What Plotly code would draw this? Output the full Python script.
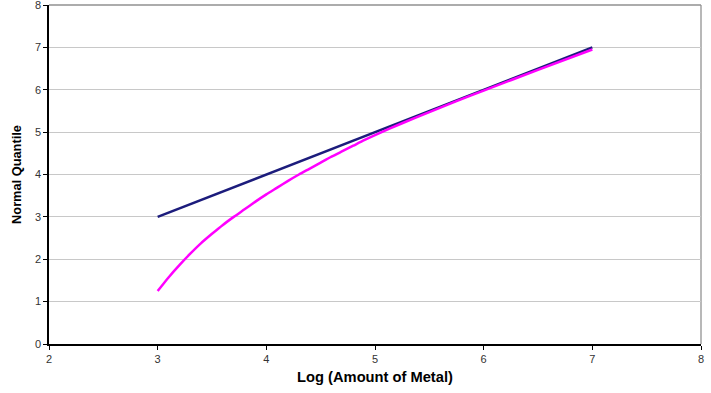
import plotly.graph_objects as go

# Reference line
ref_x = [3, 7]
ref_y = [3, 7]

# Magenta curve
curve_x = [3.0, 3.1, 3.2, 3.3, 3.4, 3.5, 3.6, 3.7, 3.8, 3.9, 4.0, 4.1, 4.2, 4.3, 4.4,
           4.5, 4.6, 4.7, 4.8, 4.9, 5.0, 5.25, 5.5, 5.75, 6.0, 6.5, 7.0]
curve_y = [1.25, 1.57, 1.86, 2.13, 2.38, 2.60, 2.81, 3.00, 3.18, 3.36, 3.53, 3.69, 3.85,
           4.00, 4.14, 4.28, 4.42, 4.55, 4.68, 4.81, 4.93, 5.21, 5.47, 5.73, 5.98, 6.47, 6.95]

x_ticks = [2, 3, 4, 5, 6, 7, 8]
y_ticks = [0, 1, 2, 3, 4, 5, 6, 7, 8]

fig = go.Figure()
fig.add_trace(go.Scatter(x=ref_x, y=ref_y, mode="lines",
                         line=dict(color="#1c1c7c", width=2.5), showlegend=False))
fig.add_trace(go.Scatter(x=curve_x, y=curve_y, mode="lines",
                         line=dict(color="#ff00ff", width=2.5, shape="spline", smoothing=0.6),
                         showlegend=False))

tickfont = dict(family="Liberation Sans, Arial", size=11, color="#333333")
fig.update_layout(
    width=711, height=393,
    margin=dict(l=49, r=10, t=5, b=49),
    paper_bgcolor="white", plot_bgcolor="white",
    xaxis=dict(range=[2, 8], tickvals=x_ticks, ticks="outside", ticklen=4, tickcolor="black",
               showline=True, linecolor="black", linewidth=1.5, showgrid=False, zeroline=False,
               tickfont=tickfont, ticklabeloverflow="allow", automargin=False,
               title=dict(text="<b>Log (Amount of Metal)</b>", standoff=8,
                          font=dict(family="Liberation Sans, Arial", size=14.7, color="black"))),
    yaxis=dict(range=[0, 8], tickvals=y_ticks, ticks="outside", ticklen=4, tickcolor="black",
               showline=True, linecolor="black", linewidth=1.5, showgrid=True,
               gridcolor="#c8c8c8", gridwidth=1, zeroline=False,
               tickfont=tickfont, ticklabeloverflow="allow", automargin=False,
               title=dict(text="<b>Normal Quantile</b>", standoff=10,
                          font=dict(family="Liberation Sans, Arial", size=12.8, color="black"))),
    shapes=[
        dict(type="line", xref="paper", yref="paper", x0=1, x1=1, y0=0, y1=1,
             line=dict(color="#a0a0a0", width=1.5), layer="below"),
        dict(type="line", xref="paper", yref="paper", x0=0, x1=1, y0=1, y1=1,
             line=dict(color="#909090", width=1.5), layer="below"),
    ],
)

fig.write_html("out.html")
